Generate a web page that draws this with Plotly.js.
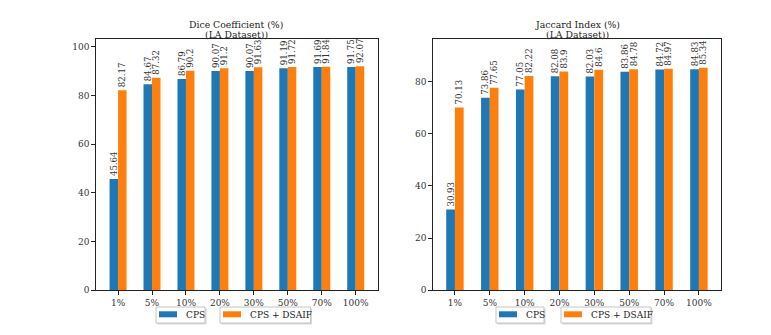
<!DOCTYPE html>
<html><head><meta charset="utf-8">
<script src="https://cdn.plot.ly/plotly-3.0.1.min.js"></script>
<style>html,body{margin:0;padding:0;background:#fff}#c{width:771px;height:335px}</style>
</head><body><div id="c"></div>
<script>
const categories = ["1%","5%","10%","20%","30%","50%","70%","100%"];
const diceCPS = [45.64,84.67,86.79,90.07,90.07,91.19,91.69,91.75];
const diceDSAIF = [82.17,87.32,90.2,91.2,91.63,91.72,91.84,92.07];
const jacCPS = [30.93,73.86,77.05,82.08,82.03,83.86,84.72,84.83];
const jacDSAIF = [70.13,77.65,82.22,83.9,84.6,84.78,84.97,85.34];
const diceTicks = [0,20,40,60,80,100];
const jacTicks = [0,20,40,60,80];
const seriesNames = ["CPS","CPS + DSAIF"];

const F = "DejaVu Serif, serif";
const blue = "#1f77b4", orange = "#ff7f0e";
function bar(y, name, color, off, xa, ya){
  return {type:"bar", x:categories, y:y, name:name, marker:{color:color},
    width:0.25, offset:off, xaxis:xa, yaxis:ya, showlegend:false,
    text:y.map(String), textposition:"outside", textangle:-90, cliponaxis:false,
    constraintext:"none", textfont:{family:F,size:8.6,color:"#333"}};
}
const data = [
  bar(diceCPS,seriesNames[0],blue,-0.25,"x","y"),
  bar(diceDSAIF,seriesNames[1],orange,0,"x","y"),
  bar(jacCPS,seriesNames[0],blue,-0.25,"x2","y2"),
  bar(jacDSAIF,seriesNames[1],orange,0,"x2","y2")
];
const ax = {showline:true, mirror:true, linecolor:"#222", linewidth:1.3, ticks:"outside",
  ticklen:3.5, tickcolor:"#222", showgrid:false, zeroline:false,
  tickfont:{family:F,size:9,color:"#333"}};

const W=771, H=335;
const px = v=>v/W, py = v=>(H-v)/H;
const shapes=[], annotations=[];
function legendBox(x0, x1, color, label){
  const y0=307, y1=323;
  shapes.push({type:"rect", xref:"paper", yref:"paper", x0:px(x0+1.5), x1:px(x1+1.5), y0:py(y1+1.5), y1:py(y0+1.5),
    line:{width:0}, fillcolor:"rgba(0,0,0,0.15)", layer:"above"});
  shapes.push({type:"rect", xref:"paper", yref:"paper", x0:px(x0), x1:px(x1), y0:py(y1), y1:py(y0),
    line:{width:1,color:"#c4c4c4"}, fillcolor:"#fff", layer:"above"});
  shapes.push({type:"rect", xref:"paper", yref:"paper", x0:px(x0+3), x1:px(x0+21), y0:py(317.3), y1:py(311.3),
    line:{width:0}, fillcolor:color, layer:"above"});
  annotations.push({text:label, xref:"paper", yref:"paper", x:px(x0+27.5), y:py(315), xanchor:"left", yanchor:"middle",
    showarrow:false, font:{family:F,size:9,color:"#222"}});
}
legendBox(156,205,blue,seriesNames[0]);
legendBox(220,310.5,orange,seriesNames[1]);
legendBox(496,544,blue,seriesNames[0]);
legendBox(561,651,orange,seriesNames[1]);
function title(cx, l1, l2){
  annotations.push({text:l1, xref:"paper", yref:"paper", x:px(cx), y:py(24.5), xanchor:"center", yanchor:"middle",
    showarrow:false, font:{family:F,size:9.3,color:"#222"}});
  annotations.push({text:l2, xref:"paper", yref:"paper", x:px(cx), y:py(34), xanchor:"center", yanchor:"middle",
    showarrow:false, font:{family:F,size:9.3,color:"#222"}});
}
title(236, "Dice Coefficient (%)", "(LA Dataset))");
title(577, "Jaccard Index (%)", "(LA Dataset))");

const layout = {
  width:W, height:H, margin:{l:0,r:0,t:0,b:0}, paper_bgcolor:"#fff", plot_bgcolor:"#fff",
  barmode:"overlay", showlegend:false,
  xaxis:Object.assign({}, ax, {domain:[0.1245,0.490], anchor:"y", range:[-0.65,7.65], type:"category"}),
  yaxis:Object.assign({}, ax, {domain:[0.134,0.8827], anchor:"x", range:[0,103.1], tickvals:diceTicks}),
  xaxis2:Object.assign({}, ax, {domain:[0.5616,0.935], anchor:"y2", range:[-0.63,7.63], type:"category"}),
  yaxis2:Object.assign({}, ax, {domain:[0.134,0.8827], anchor:"x2", range:[0,96.3], tickvals:jacTicks}),
  shapes:shapes, annotations:annotations
};
Plotly.newPlot("c", data, layout, {displayModeBar:false, staticPlot:true});
</script></body></html>
